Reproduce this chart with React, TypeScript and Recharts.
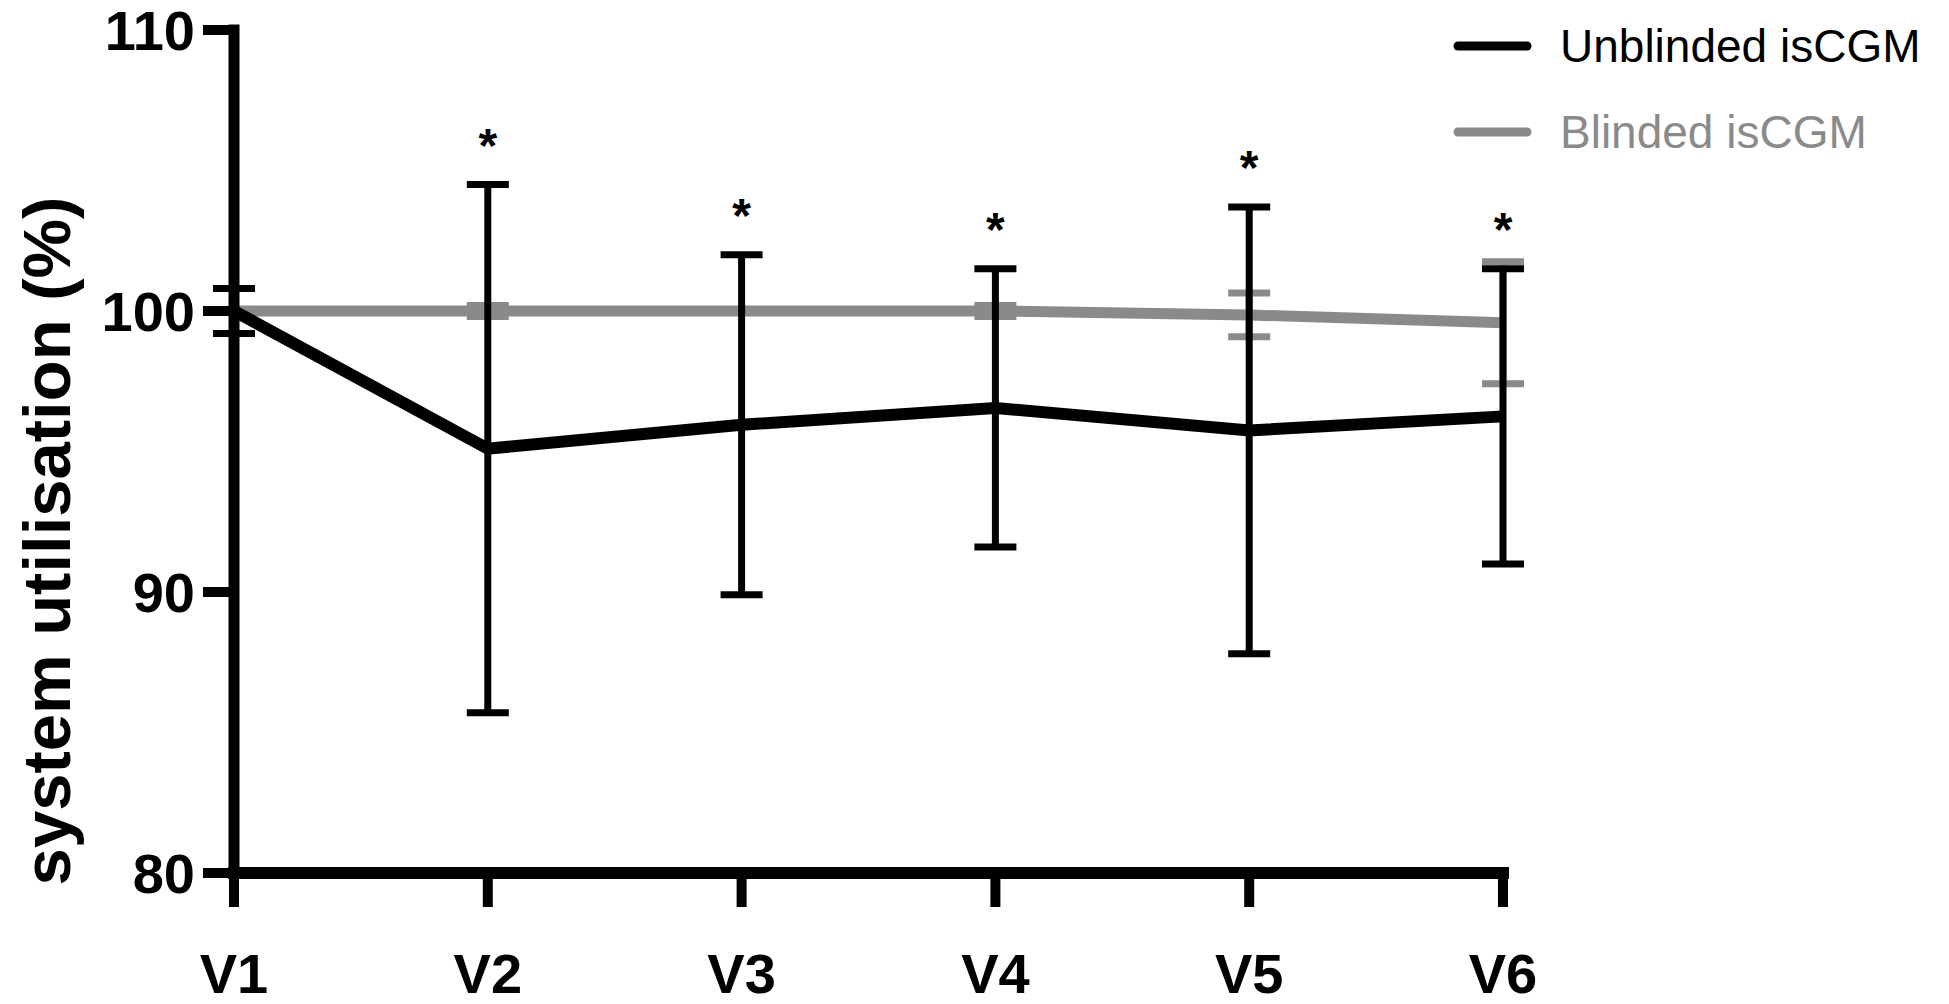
import React from 'react';
import { LineChart, Line, XAxis, YAxis, ErrorBar, Legend, LabelList } from 'recharts';

const categories = ['V1', 'V2', 'V3', 'V4', 'V5', 'V6'];
const unblinded = [100, 95.1, 95.95, 96.55, 95.75, 96.25];
const unblindedErr = [0.8, 9.4, 6.05, 4.95, 7.95, 5.25];
const blinded = [100, 100, 100, 100, 99.86, 99.58];
const blindedErr = [0, 0.2, 0, 0.2, 0.78, 2.17];
const significant = [false, true, true, true, true, true];
const yTicks = [80, 90, 100, 110];
const seriesNames = ['Blinded isCGM', 'Unblinded isCGM'];

const BLACK = '#000000';
const GREY = '#8a8a8a';
const FONT = '"Liberation Sans", Arial, Helvetica, sans-serif';

const data = categories.map((c, i) => ({
  name: c,
  blinded: blinded[i],
  blindedErr: blindedErr[i],
  unblinded: unblinded[i],
  unblindedErr: unblindedErr[i],
  upper: unblinded[i] + unblindedErr[i],
}));

const XTick = (props: any) => {
  const { x, y, payload } = props;
  return (
    <text x={x} y={y + 86} textAnchor="middle" fontFamily={FONT} fontWeight="bold" fontSize={56} fill="#000">
      {payload.value}
    </text>
  );
};

const YTick = (props: any) => {
  const { x, y, payload } = props;
  return (
    <text x={x} y={y + 20} textAnchor="end" fontFamily={FONT} fontWeight="bold" fontSize={56} fill="#000">
      {payload.value}
    </text>
  );
};

const StarLabel = (props: any) => {
  const { x, y, index } = props;
  if (!significant[index]) return null;
  return (
    <text x={x} y={y - 50 + 27} textAnchor="middle" fontFamily={FONT} fontWeight="bold" fontSize={48} fill="#000">
      *
    </text>
  );
};

const LegendContent = (props: any) => {
  const payload = (props.payload || []).filter((p: any) => p.type !== 'none');
  const order = ['Unblinded isCGM', 'Blinded isCGM'];
  const items = order
    .map((n) => payload.find((p: any) => p.value === n))
    .filter(Boolean);
  return (
    <svg width={500} height={170}>
      {items.map((p: any, i: number) => (
        <g key={p.value}>
          <line x1={18} x2={87} y1={46 + i * 86} y2={46 + i * 86} stroke={p.color} strokeWidth={9} strokeLinecap="round" />
          <text x={120} y={62 + i * 86} fontFamily={FONT} fontSize={46} fill={p.color}>
            {p.value}
          </text>
        </g>
      ))}
    </svg>
  );
};

export default function App() {
  return (
    <div style={{ position: 'absolute', left: 0, top: 0, background: '#fff' }}>
      <LineChart width={1949} height={1004} data={data} margin={{ top: 30, right: 446, bottom: 0, left: 0 }}>
        <XAxis
          dataKey="name"
          height={131}
          tickSize={34}
          tickMargin={0}
          tick={<XTick />}
          axisLine={{ stroke: '#000', strokeWidth: 12, strokeLinecap: 'square' }}
          tickLine={{ stroke: '#000', strokeWidth: 10 }}
          padding={{ left: 0, right: 0 }}
        />
        <YAxis
          type="number"
          domain={[80, 110]}
          ticks={yTicks}
          width={234}
          tickSize={31}
          tickMargin={8}
          tick={<YTick />}
          axisLine={{ stroke: '#000', strokeWidth: 11, strokeLinecap: 'square' }}
          tickLine={{ stroke: '#000', strokeWidth: 10 }}
          allowDataOverflow
          label={{
            value: 'system utilisation (%)',
            angle: -90,
            position: 'insideLeft',
            content: () => (
              <text
                x={70}
                y={541}
                transform="rotate(-90, 70, 541)"
                textAnchor="middle"
                fontFamily={FONT}
                fontWeight="bold"
                fontSize={67}
                fill="#000"
              >
                system utilisation (%)
              </text>
            ),
          }}
        />
        <Legend
          layout="vertical"
          align="center"
          verticalAlign="middle"
          content={<LegendContent />}
          wrapperStyle={{ position: 'absolute', left: 1440, top: 0, width: 500, height: 170 }}
        />
        <Line
          type="linear"
          dataKey="blinded"
          name={seriesNames[0]}
          stroke={GREY}
          strokeWidth={11}
          dot={false}
          activeDot={false}
          isAnimationActive={false}
        >
          <ErrorBar dataKey="blindedErr" width={21} stroke={GREY} strokeWidth={7} direction="y" isAnimationActive={false} />
        </Line>
        <Line
          type="linear"
          dataKey="unblinded"
          name={seriesNames[1]}
          stroke={BLACK}
          strokeWidth={12}
          dot={false}
          activeDot={false}
          isAnimationActive={false}
        >
          <ErrorBar dataKey="unblindedErr" width={21} stroke={BLACK} strokeWidth={7} direction="y" isAnimationActive={false} />
        </Line>
        <Line
          type="linear"
          dataKey="upper"
          stroke="none"
          strokeWidth={0}
          dot={false}
          activeDot={false}
          legendType="none"
          isAnimationActive={false}
        >
          <LabelList dataKey="upper" content={<StarLabel />} />
        </Line>
      </LineChart>
    </div>
  );
}
